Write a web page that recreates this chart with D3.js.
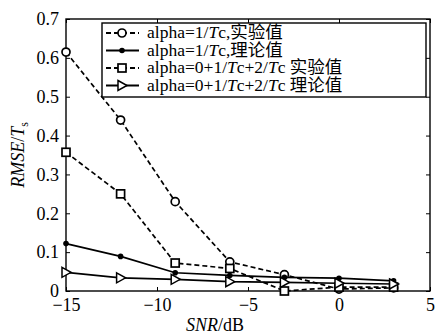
<!DOCTYPE html>
<html>
<head>
<meta charset="utf-8">
<script src="https://cdn.jsdelivr.net/npm/d3@7"></script>
<style>
  body { margin: 0; background: #fff; }
  svg { display: block; font-family: "Liberation Serif", "Times New Roman", "Noto Sans CJK SC", serif; }
</style>
</head>
<body>
<svg width="438" height="334"></svg>
<script>
// SNR values (dB)
var snr = [-15, -12, -9, -6, -3, 0, 3];

// RMSE/Ts for each curve
var expSingle = [0.615, 0.44, 0.23, 0.075, 0.042, 0.005, 0.008];
var theorySingle = [0.122, 0.089, 0.047, 0.04, 0.035, 0.033, 0.026];
var expMulti = [0.357, 0.25, 0.072, 0.058, 0.0, 0.01, 0.01];
var theoryMulti = [0.048, 0.034, 0.03, 0.024, 0.022, 0.02, 0.018];

var xTicks = [-15, -10, -5, 0, 5];
var yTicks = [0, 0.1, 0.2, 0.3, 0.4, 0.5, 0.6, 0.7];

var series = [
  {pre: "alpha=1/", post: "c,实验值", values: expSingle, dash: "5,3", marker: "circle"},
  {pre: "alpha=1/", post: "c,理论值", values: theorySingle, dash: null, marker: "dot"},
  {pre: "alpha=0+1/", mid: "c+2/", post: "c 实验值", values: expMulti, dash: "5,3", marker: "square"},
  {pre: "alpha=0+1/", mid: "c+2/", post: "c 理论值", values: theoryMulti, dash: null, marker: "triangle"}
];

var svg = d3.select("svg"),
    pl = 66, pr = 430, pt = 19, pb = 291;

var x = d3.scaleLinear().domain([-15, 5]).range([pl, pr]);
var y = d3.scaleLinear().domain([0, 0.7]).range([pb, pt]);

// axes with inward ticks, box on all four sides
var fmtY = function(d) { return d === 0 ? "0" : d3.format(".1f")(d); };
var ax = svg.append("g");
ax.append("g").attr("transform", "translate(0," + pb + ")")
  .call(d3.axisBottom(x).tickValues(xTicks).tickSizeInner(-4).tickSizeOuter(0).tickPadding(7));
ax.append("g").attr("transform", "translate(0," + pt + ")")
  .call(d3.axisTop(x).tickValues(xTicks).tickSizeInner(-4).tickSizeOuter(0).tickFormat(""));
ax.append("g").attr("transform", "translate(" + pl + ",0)")
  .call(d3.axisLeft(y).tickValues(yTicks).tickSizeInner(-4).tickSizeOuter(0).tickPadding(7).tickFormat(fmtY));
ax.append("g").attr("transform", "translate(" + pr + ",0)")
  .call(d3.axisRight(y).tickValues(yTicks).tickSizeInner(-4).tickSizeOuter(0).tickFormat(""));
ax.selectAll(".domain").remove();
ax.selectAll("line").attr("stroke", "#000").attr("stroke-width", 1);
ax.selectAll("text").attr("font-size", 18).attr("fill", "#000")
  .attr("font-family", "Liberation Serif, serif");

svg.append("rect")
  .attr("x", pl).attr("y", pt)
  .attr("width", pr - pl).attr("height", pb - pt)
  .attr("fill", "none").attr("stroke", "#000").attr("stroke-width", 1.4);

var line = d3.line().x(function(d, i) { return x(snr[i]); }).y(function(d) { return y(d); });

function drawMarker(g, type, cx, cy) {
  if (type === "circle") {
    g.append("circle").attr("cx", cx).attr("cy", cy).attr("r", 4)
      .attr("fill", "#fff").attr("stroke", "#000").attr("stroke-width", 1.7);
  } else if (type === "dot") {
    g.append("circle").attr("cx", cx).attr("cy", cy).attr("r", 2.8).attr("fill", "#000");
  } else if (type === "square") {
    g.append("rect").attr("x", cx - 4).attr("y", cy - 4).attr("width", 8).attr("height", 8)
      .attr("fill", "#fff").attr("stroke", "#000").attr("stroke-width", 1.7);
  } else {
    g.append("path").attr("d", "M" + (cx - 4) + "," + (cy - 5) + "L" + (cx + 5) + "," + cy + "L" + (cx - 4) + "," + (cy + 5) + "Z")
      .attr("fill", "#fff").attr("stroke", "#000").attr("stroke-width", 1.5);
  }
}

var plot = svg.append("g");
series.forEach(function(s) {
  plot.append("path").datum(s.values)
    .attr("d", line).attr("fill", "none").attr("stroke", "#000")
    .attr("stroke-width", 1.7).attr("stroke-dasharray", s.dash);
});
series.forEach(function(s) {
  s.values.forEach(function(v, i) { drawMarker(plot, s.marker, x(snr[i]), y(v)); });
});

// legend
var lg = svg.append("g");
lg.append("rect").attr("x", 102).attr("y", 23).attr("width", 324).attr("height", 74)
  .attr("fill", "#fff").attr("stroke", "#000").attr("stroke-width", 1.4);
series.forEach(function(s, i) {
  var ly = 33 + i * 17.5;
  lg.append("line").attr("x1", 106).attr("x2", 139).attr("y1", ly).attr("y2", ly)
    .attr("stroke", "#000").attr("stroke-width", 2).attr("stroke-dasharray", s.dash);
  drawMarker(lg, s.marker, 122, ly);
  var t = lg.append("text").attr("x", 147).attr("y", ly + 5).attr("font-size", 17.5);
  t.append("tspan").text(s.pre);
  t.append("tspan").attr("font-style", "italic").text("T");
  if (s.mid) {
    t.append("tspan").text(s.mid);
    t.append("tspan").attr("font-style", "italic").text("T");
  }
  t.append("tspan").text(s.post);
});

// axis titles
var xl = svg.append("text").attr("x", 215).attr("y", 331).attr("text-anchor", "middle").attr("font-size", 18);
xl.append("tspan").attr("font-style", "italic").text("SNR");
xl.append("tspan").text("/dB");

var yl = svg.append("text").attr("transform", "translate(24,155) rotate(-90)")
  .attr("text-anchor", "middle").attr("font-size", 18);
yl.append("tspan").attr("font-style", "italic").text("RMSE");
yl.append("tspan").text("/");
yl.append("tspan").attr("font-style", "italic").text("T");
yl.append("tspan").attr("font-size", 12).attr("dy", 4).text("s");
</script>
</body>
</html>
